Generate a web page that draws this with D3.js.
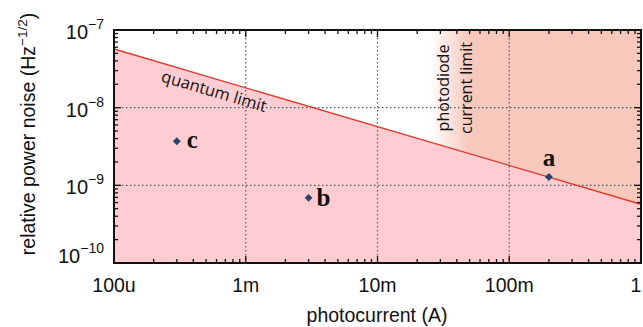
<!DOCTYPE html>
<html>
<head>
<meta charset="utf-8">
<script src="https://cdn.jsdelivr.net/npm/d3@7"></script>
<style>
  body { margin: 0; background: #fff; }
  text { font-family: "Liberation Sans", Arial, sans-serif; }
</style>
</head>
<body>
<svg id="chart" width="643" height="327"></svg>
<script>
// data
const pointNames = ['c', 'b', 'a'];
const pointCurrent = [3.0e-4, 3.0e-3, 0.2];
const pointNoise = [3.7e-9, 6.9e-10, 1.28e-9];

const quantumCurrent = [1e-4, 1];
const quantumNoise = [5.7e-8, 5.7e-10];

const pdLimitStart = 2.5e-2;
const pdLimitFull = 5e-2;

const xTicks = [1e-4, 1e-3, 1e-2, 1e-1, 1];
const xTickLabels = ['100u', '1m', '10m', '100m', '1'];
const yTicks = [1e-10, 1e-9, 1e-8, 1e-7];
const yTickExp = ['\u221210', '\u22129', '\u22128', '\u22127'];

const svg = d3.select('#chart');
const pLeft = 114, pRight = 641, pTop = 30, pBottom = 263;

const x = d3.scaleLog().domain([1e-4, 1]).range([pLeft, pRight]);
const y = d3.scaleLog().domain([1e-10, 1e-7]).range([pBottom, pTop]);

const defs = svg.append('defs');
defs.append('clipPath').attr('id', 'clip')
  .append('rect').attr('x', pLeft).attr('y', pTop)
  .attr('width', pRight - pLeft).attr('height', pBottom - pTop);

const plot = svg.append('g').attr('clip-path', 'url(#clip)');

// photodiode current limit gradient (behind the quantum fill)
const grad = defs.append('linearGradient')
  .attr('id', 'pdgrad').attr('gradientUnits', 'userSpaceOnUse')
  .attr('x1', x(pdLimitStart)).attr('x2', x(pdLimitFull))
  .attr('y1', 0).attr('y2', 0);
grad.append('stop').attr('offset', 0).attr('stop-color', '#f7c8bb').attr('stop-opacity', 0);
grad.append('stop').attr('offset', 1).attr('stop-color', '#f7c8bb').attr('stop-opacity', 1);
plot.append('rect')
  .attr('x', x(pdLimitStart)).attr('y', pTop)
  .attr('width', pRight - x(pdLimitStart)).attr('height', pBottom - pTop)
  .attr('fill', 'url(#pdgrad)');

// quantum limit fill (below the line)
const area = d3.area()
  .x(d => x(d[0]))
  .y0(pBottom)
  .y1(d => y(d[1]));
const qData = quantumCurrent.map((c, i) => [c, quantumNoise[i]]);
plot.append('path').datum(qData).attr('d', area).attr('fill', '#ffcdd1');

// grid
plot.selectAll('.gx').data(xTicks.slice(1, -1)).enter().append('line')
  .attr('x1', d => x(d)).attr('x2', d => x(d))
  .attr('y1', pTop).attr('y2', pBottom)
  .attr('stroke', '#555').attr('stroke-width', 1.2).attr('stroke-dasharray', '1.5,2.5');
plot.selectAll('.gy').data(yTicks.slice(1, -1)).enter().append('line')
  .attr('x1', pLeft).attr('x2', pRight)
  .attr('y1', d => y(d)).attr('y2', d => y(d))
  .attr('stroke', '#555').attr('stroke-width', 1.2).attr('stroke-dasharray', '1.5,2.5');

// quantum limit line
plot.append('path').datum(qData)
  .attr('d', d3.line().x(d => x(d[0])).y(d => y(d[1])))
  .attr('fill', 'none').attr('stroke', '#e0352b').attr('stroke-width', 1.3);

// axes with inward ticks
function logTicks(domain) {
  const out = [];
  let d = domain[0];
  while (d < domain[1] * 0.999) {
    for (let k = 1; k < 10; k++) out.push(d * k);
    d *= 10;
  }
  out.push(domain[1]);
  return out;
}
const xAll = logTicks(x.domain());
const yAll = logTicks(y.domain());
const isMajor = v => Math.abs(Math.log10(v) - Math.round(Math.log10(v))) < 1e-6;

const ticks = svg.append('g').attr('stroke', '#111').attr('stroke-width', 1.3);
xAll.forEach(v => {
  const len = isMajor(v) ? 7 : 4;
  ticks.append('line').attr('x1', x(v)).attr('x2', x(v)).attr('y1', pBottom).attr('y2', pBottom - len);
  ticks.append('line').attr('x1', x(v)).attr('x2', x(v)).attr('y1', pTop).attr('y2', pTop + len);
});
yAll.forEach(v => {
  const len = isMajor(v) ? 7 : 4;
  ticks.append('line').attr('y1', y(v)).attr('y2', y(v)).attr('x1', pLeft).attr('x2', pLeft + len);
  ticks.append('line').attr('y1', y(v)).attr('y2', y(v)).attr('x1', pRight).attr('x2', pRight - len);
});

svg.append('rect').attr('x', pLeft).attr('y', pTop)
  .attr('width', pRight - pLeft).attr('height', pBottom - pTop)
  .attr('fill', 'none').attr('stroke', '#111').attr('stroke-width', 2);

// tick labels
svg.selectAll('.xl').data(xTicks).enter().append('text')
  .attr('x', (d, i) => i === xTicks.length - 1 ? x(d) - 5 : x(d)).attr('y', 292)
  .attr('text-anchor', 'middle').attr('font-size', 19.5).attr('fill', '#111')
  .text((d, i) => xTickLabels[i]);

const yl = svg.selectAll('.yl').data(yTicks).enter().append('text')
  .attr('x', 104).attr('y', (d, i) => y(d) + (i === 0 ? 0 : 9))
  .attr('text-anchor', 'end').attr('font-size', 20).attr('fill', '#111');
yl.append('tspan').text('10');
yl.append('tspan').attr('dy', -10).attr('font-size', 14).text((d, i) => yTickExp[i]);

// axis titles
svg.append('text').attr('x', 377).attr('y', 322)
  .attr('text-anchor', 'middle').attr('font-size', 19.5).attr('fill', '#111')
  .text('photocurrent (A)');

const yt = svg.append('text')
  .attr('transform', 'translate(35,134) rotate(-90)')
  .attr('text-anchor', 'middle').attr('font-size', 19.5).attr('fill', '#111');
yt.append('tspan').text('relative power noise (Hz');
yt.append('tspan').attr('dy', -8).attr('font-size', 13.5).text('\u22121/2');
yt.append('tspan').attr('dy', 8).text(')');

// annotations
const angle = Math.atan2(y(quantumNoise[1]) - y(quantumNoise[0]), x(quantumCurrent[1]) - x(quantumCurrent[0])) * 180 / Math.PI;
const qx = 6.1e-4;
const qlx = x(qx), qly = y(quantumNoise[0] * Math.sqrt(quantumCurrent[0] / qx));
svg.append('text')
  .attr('transform', `translate(${qlx},${qly}) rotate(${angle}) translate(0,18)`)
  .style('font-family', '"Open Sans", "Noto Sans", sans-serif')
  .attr('font-size', 16.5).attr('fill', '#111').attr('text-anchor', 'middle')
  .text('quantum limit');

const pd = svg.append('text')
  .attr('transform', `translate(449,88) rotate(-90)`)
  .style('font-family', '"Open Sans", "Noto Sans", sans-serif')
  .attr('font-size', 16).attr('fill', '#111').attr('text-anchor', 'middle');
pd.append('tspan').attr('x', 0).attr('dy', 0).text('photodiode');
pd.append('tspan').attr('x', 0).attr('dy', 23).text('current limit');

// measured points
svg.selectAll('.pt').data(pointNames).enter().append('path')
  .attr('d', d3.symbol().type(d3.symbolDiamond2).size(40))
  .attr('transform', (d, i) => `translate(${x(pointCurrent[i])},${y(pointNoise[i])})`)
  .attr('fill', '#23456f');

const labelOffset = { c: [10, 7], b: [8, 8], a: [0, -11] };
svg.selectAll('.pl').data(pointNames).enter().append('text')
  .attr('x', (d, i) => x(pointCurrent[i]) + labelOffset[d][0])
  .attr('y', (d, i) => y(pointNoise[i]) + labelOffset[d][1])
  .attr('text-anchor', d => d === 'a' ? 'middle' : 'start')
  .style('font-family', '"Liberation Serif", "DejaVu Serif", serif')
  .attr('font-weight', 'bold').attr('font-size', 25).attr('fill', '#111')
  .text(d => d);
</script>
</body>
</html>
